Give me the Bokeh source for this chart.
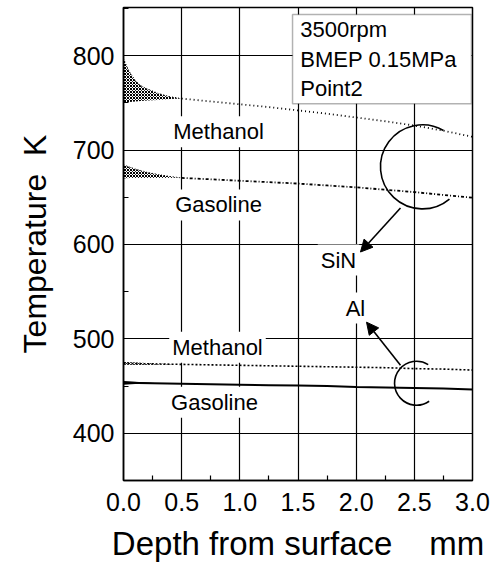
from bokeh.plotting import figure
from bokeh.models import Range1d, FixedTicker, Label, Arrow, NormalHead, BoxAnnotation
from bokeh.embed import file_html
from bokeh.resources import INLINE

# ---------------- data ----------------
x_ticks = [0.0, 0.5, 1.0, 1.5, 2.0, 2.5, 3.0]
x_tick_labels = ["0.0", "0.5", "1.0", "1.5", "2.0", "2.5", "3.0"]
y_ticks = [400, 500, 600, 700, 800]
y_tick_labels = ["400", "500", "600", "700", "800"]

depth = [0.0, 0.25, 0.5, 0.75, 1.0, 1.25, 1.5, 1.75, 2.0, 2.25, 2.5, 2.75, 3.0]
depth_sin = [0.5, 0.75, 1.0, 1.25, 1.5, 1.75, 2.0, 2.25, 2.5, 2.75, 3.0]

# SiN, methanol: swing band near the surface + mean line
sin_meth_band_x = [0.0, 0.02, 0.05, 0.1, 0.15, 0.2, 0.3, 0.4, 0.5]
sin_meth_band_hi = [797, 791, 783, 774, 768, 765, 760, 756.5, 754.5]
sin_meth_band_lo = [750, 750.5, 751, 751.5, 752, 752.5, 753, 754, 754.5]
sin_meth_T = [754.5, 751.5, 748.5, 745.5, 742, 738.5, 734.5, 730.5, 726, 720.5, 714]

# SiN, gasoline
sin_gas_band_x = [0.0, 0.05, 0.1, 0.2, 0.3, 0.4, 0.5]
sin_gas_band_hi = [684.5, 682, 680, 676.5, 674, 672, 670.5]
sin_gas_band_lo = [670, 670.3, 670.5, 670.5, 670.5, 670.5, 670.5]
sin_gas_T = [670.5, 669, 667.5, 666, 664.5, 662.5, 660.5, 658, 655.5, 652.5, 649.5]

# Al, methanol
al_meth_band_x = [0.0, 0.1, 0.2, 0.3, 0.45]
al_meth_band_hi = [475.5, 475, 474.5, 474, 473]
al_meth_band_lo = [472.5, 472.5, 472.5, 472.8, 473]
al_meth_T = [474, 473.5, 473, 472.5, 472, 471.5, 471, 470.5, 470, 469.5, 468.5, 468, 467]

# Al, gasoline
al_gas_band_x = [0.0, 0.1, 0.2, 0.3]
al_gas_band_hi = [455.5, 454.5, 453.7, 453]
al_gas_band_lo = [451.5, 452.2, 452.6, 452.8]
al_gas_T = [453.5, 453, 452.5, 452, 451.5, 451, 450.5, 450, 449, 448.5, 448, 447.5, 446.5]

FONT = "Liberation Sans"
NB = "\u00a0"

p = figure(width=490, height=570, output_backend="svg", toolbar_location=None,
           x_range=Range1d(0, 3.0), y_range=Range1d(350, 851),
           min_border_left=123, min_border_right=18, min_border_top=7, min_border_bottom=90)
p.background_fill_color = "white"
p.border_fill_color = "white"
p.outline_line_color = "black"
p.outline_line_width = 1.5

# axes
p.xaxis.ticker = FixedTicker(ticks=x_ticks, minor_ticks=[0.25, 0.75, 1.25, 1.75, 2.25, 2.75])
p.yaxis.ticker = FixedTicker(ticks=y_ticks, minor_ticks=[350, 450, 550, 650, 750, 850])
p.xaxis.major_label_overrides = dict(zip(x_ticks, x_tick_labels))
p.yaxis.major_label_overrides = dict(zip(y_ticks, y_tick_labels))
for ax in (p.xaxis, p.yaxis):
    ax.axis_line_color = "black"
    ax.axis_line_width = 1.5
    ax.major_tick_in = 0
    ax.major_tick_out = 0
    ax.minor_tick_in = 5
    ax.minor_tick_out = 0
    ax.minor_tick_line_color = "black"
    ax.minor_tick_line_width = 1.2
    ax.major_label_text_font = FONT
    ax.major_label_text_font_size = "25px"
    ax.major_label_text_color = "black"
    ax.axis_label_text_font = FONT
    ax.axis_label_text_font_style = "normal"
    ax.axis_label_text_color = "black"
p.xaxis.axis_label_text_font_size = "33px"
p.yaxis.axis_label_text_font_size = "32px"
p.xaxis.axis_label = "Depth from surface" + NB * 4 + "mm"
p.yaxis.axis_label = "Temperature" + NB * 2 + "K"
p.xaxis.major_label_standoff = 12
p.yaxis.major_label_standoff = 9
p.xaxis.axis_label_standoff = 11
p.yaxis.axis_label_standoff = 17

p.grid.grid_line_color = "black"
p.grid.grid_line_width = 1.2
p.grid.grid_line_alpha = 1.0

# bands (temperature swing near the surface)
band_style = dict(fill_color="white", fill_alpha=0.0, hatch_pattern="diagonal_cross",
                  hatch_color="black", hatch_scale=3.0, hatch_weight=1.0)
p.varea(x=sin_meth_band_x, y1=sin_meth_band_lo, y2=sin_meth_band_hi, **band_style)
p.varea(x=sin_gas_band_x, y1=sin_gas_band_lo, y2=sin_gas_band_hi, **band_style)
p.varea(x=al_meth_band_x, y1=al_meth_band_lo, y2=al_meth_band_hi, **band_style)
p.varea(x=al_gas_band_x, y1=al_gas_band_lo, y2=al_gas_band_hi, fill_color="black")
p.line(sin_meth_band_x, sin_meth_band_hi, line_color="black", line_width=1, line_dash="1 2")
p.line(sin_gas_band_x, sin_gas_band_hi, line_color="black", line_width=1, line_dash="1 2")

# mean lines
p.line(depth_sin, sin_meth_T, line_color="black", line_width=1.8, line_dash="1 3")
p.line(depth_sin, sin_gas_T, line_color="black", line_width=1.8, line_dash="3 2 1 2")
p.line(depth, al_meth_T, line_color="black", line_width=1.6, line_dash="2 2")
p.line(depth, al_gas_T, line_color="black", line_width=2.0)

# brackets
p.arc(x=[2.570], y=[682.2], radius=42, radius_units="screen",
      start_angle=60, end_angle=310, start_angle_units="deg", end_angle_units="deg",
      direction="anticlock", line_color="black", line_width=1.6)
p.arc(x=[2.519], y=[453.0], radius=22, radius_units="screen",
      start_angle=58, end_angle=305, start_angle_units="deg", end_angle_units="deg",
      direction="anticlock", line_color="black", line_width=1.6)

# text labels with white backgrounds
def lab(x, y, t, align="center"):
    p.add_layout(Label(x=x, y=y, text=t, text_font=FONT, text_font_size="22px",
                       text_color="black", text_align=align, text_baseline="middle",
                       background_fill_color="white", background_fill_alpha=1.0,
                       padding=3))

lab(0.817, 719.4, "Methanol")
lab(0.817, 641.9, "Gasoline")
lab(1.848, 583.5, "SiN")
lab(1.994, 532.6, "Al")
lab(0.808, 491.2, "Methanol")
lab(0.782, 432.8, "Gasoline")

# arrows
p.add_layout(Arrow(x_start=2.381, y_start=638.7, x_end=2.037, y_end=592.0,
                   line_color="black", line_width=1.6,
                   end=NormalHead(size=12, fill_color="black", line_color="black")))
p.add_layout(Arrow(x_start=2.381, y_start=472.1, x_end=2.089, y_end=517.7,
                   line_color="black", line_width=1.6,
                   end=NormalHead(size=12, fill_color="black", line_color="black")))

# condition box
p.add_layout(BoxAnnotation(left=1.453, right=2.991, top=843.6, bottom=749,
                           fill_color="white", fill_alpha=1.0,
                           line_color="black", line_width=1.5))
for yy, t in [(827.6, "3500rpm"), (795.8, "BMEP 0.15MPa"), (765.0, "Point2")]:
    p.add_layout(Label(x=1.52, y=yy, text=t, text_font=FONT, text_font_size="22px",
                       text_color="black", text_align="left", text_baseline="middle"))

open("out.html", "w").write(file_html(p, INLINE))
